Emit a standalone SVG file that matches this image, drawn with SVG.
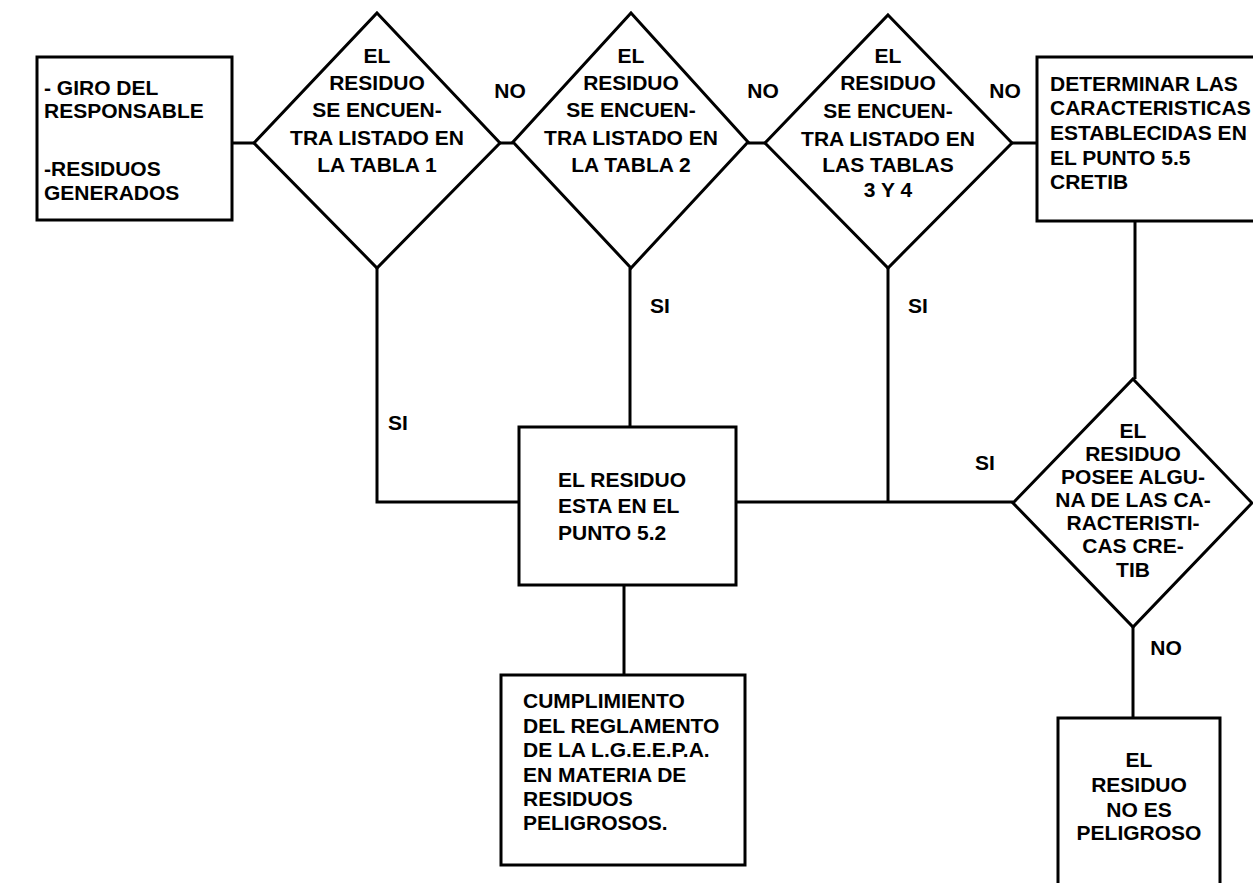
<svg xmlns="http://www.w3.org/2000/svg" width="1253" height="883" viewBox="0 0 1253 883">
<style>
.s{fill:#fff;stroke:#000;stroke-width:3;stroke-linejoin:miter}
.c{fill:none;stroke:#000;stroke-width:3}
text{font-family:"Liberation Sans",Arial,sans-serif;font-weight:bold;font-size:21px;fill:#000}
.m{text-anchor:middle}
</style>
<rect width="1253" height="883" fill="#fff"/>
<g id="connectors">
<path class="c" d="M232 143H255 M500 143H513 M748 143H765 M1012 143H1037"/>
<path class="c" d="M377 268V502H519"/>
<path class="c" d="M630 268V427"/>
<path class="c" d="M888 268V502"/>
<path class="c" d="M736 502H1013"/>
<path class="c" d="M1135 221V379"/>
<path class="c" d="M624 585V675"/>
<path class="c" d="M1133 627V718"/>
</g>
<g id="labels">
<text class="m" x="510" y="98">NO</text>
<text class="m" x="763" y="98">NO</text>
<text class="m" x="1005" y="98">NO</text>
<text class="m" x="398" y="430">SI</text>
<text class="m" x="660" y="313">SI</text>
<text class="m" x="918" y="313">SI</text>
<text class="m" x="985" y="470">SI</text>
<text class="m" x="1166" y="655">NO</text>
</g>
<g id="n1">
<rect class="s" x="37" y="57" width="195" height="163"/>
<text x="44" y="95">- GIRO DEL</text>
<text x="44" y="118">RESPONSABLE</text>
<text x="44" y="176">-RESIDUOS</text>
<text x="44" y="200">GENERADOS</text>
</g>
<g id="d1">
<polygon class="s" points="377,13 500,143 377,268 254,143"/>
<text class="m" x="377" y="63">EL</text>
<text class="m" x="377" y="90">RESIDUO</text>
<text class="m" x="377" y="117">SE ENCUEN-</text>
<text class="m" x="377" y="145">TRA LISTADO EN</text>
<text class="m" x="377" y="172">LA TABLA 1</text>
</g>
<g id="d2">
<polygon class="s" points="631,13 748,142 631,268 513,142"/>
<text class="m" x="631" y="63">EL</text>
<text class="m" x="631" y="90">RESIDUO</text>
<text class="m" x="631" y="117">SE ENCUEN-</text>
<text class="m" x="631" y="145">TRA LISTADO EN</text>
<text class="m" x="631" y="172">LA TABLA 2</text>
</g>
<g id="d3">
<polygon class="s" points="888,15 1012,143 888,268 765,143"/>
<text class="m" x="888" y="63">EL</text>
<text class="m" x="888" y="90">RESIDUO</text>
<text class="m" x="888" y="118">SE ENCUEN-</text>
<text class="m" x="888" y="146">TRA LISTADO EN</text>
<text class="m" x="888" y="172">LAS TABLAS</text>
<text class="m" x="888" y="197">3 Y 4</text>
</g>
<g id="n4">
<rect class="s" x="1037" y="57" width="230" height="164"/>
<text x="1050" y="91">DETERMINAR LAS</text>
<text x="1050" y="115">CARACTERISTICAS</text>
<text x="1050" y="140">ESTABLECIDAS EN</text>
<text x="1050" y="165">EL PUNTO 5.5</text>
<text x="1050" y="189">CRETIB</text>
</g>
<g id="n5">
<rect class="s" x="519" y="427" width="217" height="158"/>
<text x="558" y="487">EL RESIDUO</text>
<text x="558" y="513">ESTA EN EL</text>
<text x="558" y="540">PUNTO 5.2</text>
</g>
<g id="n6">
<rect class="s" x="501" y="675" width="244" height="190"/>
<text x="523" y="708">CUMPLIMIENTO</text>
<text x="523" y="733">DEL REGLAMENTO</text>
<text x="523" y="757">DE LA L.G.E.E.P.A.</text>
<text x="523" y="782">EN MATERIA DE</text>
<text x="523" y="806">RESIDUOS</text>
<text x="523" y="830">PELIGROSOS.</text>
</g>
<g id="d4">
<polygon class="s" points="1133,379 1252,503 1133,627 1013,503"/>
<text class="m" x="1133" y="438">EL</text>
<text class="m" x="1133" y="461">RESIDUO</text>
<text class="m" x="1133" y="484">POSEE ALGU-</text>
<text class="m" x="1133" y="507">NA DE LAS CA-</text>
<text class="m" x="1133" y="530">RACTERISTI-</text>
<text class="m" x="1133" y="553">CAS CRE-</text>
<text class="m" x="1133" y="577">TIB</text>
</g>
<g id="n7">
<rect class="s" x="1058" y="718" width="162" height="175"/>
<text class="m" x="1139" y="767">EL</text>
<text class="m" x="1139" y="792">RESIDUO</text>
<text class="m" x="1139" y="817">NO ES</text>
<text class="m" x="1139" y="840">PELIGROSO</text>
</g>
</svg>
